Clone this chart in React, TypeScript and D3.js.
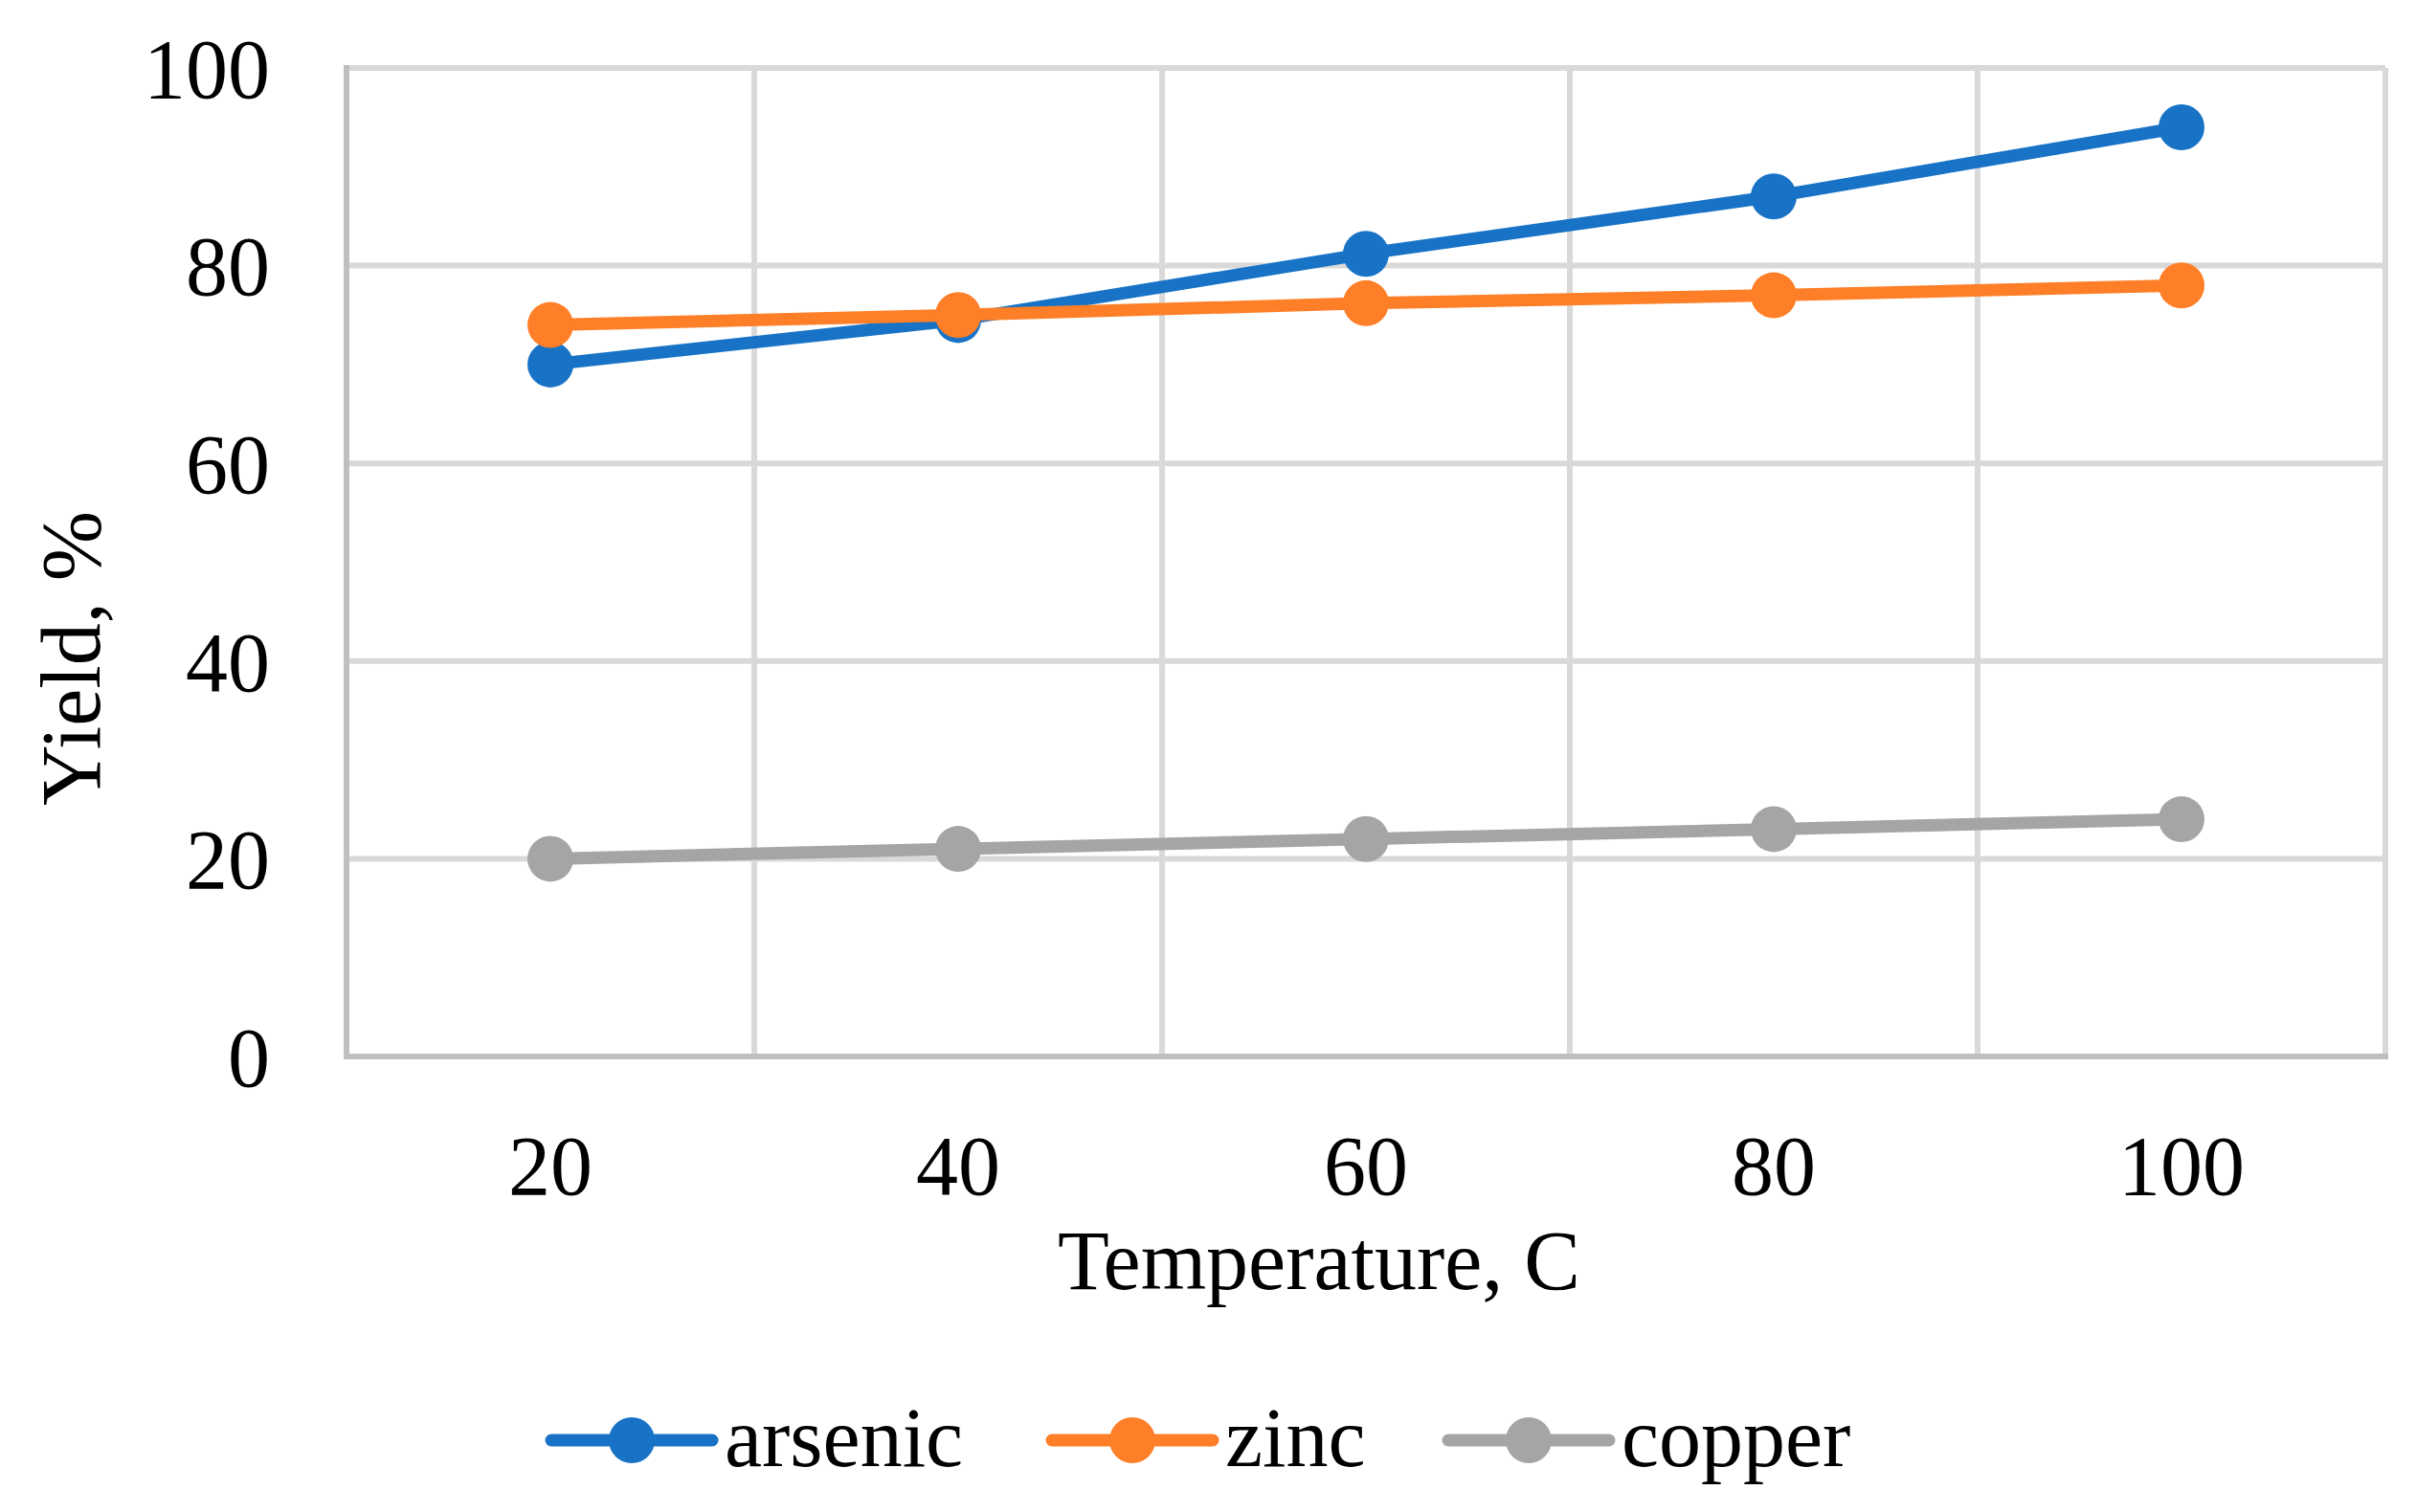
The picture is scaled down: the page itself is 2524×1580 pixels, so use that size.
import React from "react";
import * as d3 from "d3";

const temperatures = [20, 40, 60, 80, 100];
const arsenic = [70, 74.5, 81.2, 87, 94];
const zinc = [74, 75, 76.2, 77, 78];
const copper = [20, 21, 22, 23, 24];
const seriesNames = ["arsenic", "zinc", "copper"];
const seriesColors = ["#1873c6", "#fe7f27", "#a5a5a5"];
const yTicks = [0, 20, 40, 60, 80, 100];
const xTicks = [20, 40, 60, 80, 100];
const xGrid = [10, 30, 50, 70, 90, 110];

const W = 2524;
const H = 1580;
const FONT = "'Liberation Serif', 'Times New Roman', serif";

export default function App() {
  const x = d3.scaleLinear().domain([10, 110]).range([362, 2492]);
  const y = d3.scaleLinear().domain([0, 100]).range([1104, 71]);
  const data = [arsenic, zinc, copper];
  const line = d3
    .line<number>()
    .x((_, i) => x(temperatures[i]))
    .y((d) => y(d));

  const legendX = [576, 1099, 1513];
  const legendY = 1505;

  return (
    <div style={{ position: "absolute", left: 0, top: 0 }}>
      <svg width={W} height={H} style={{ display: "block", background: "#fff" }}>
        <rect x={0} y={0} width={W} height={H} fill="#fff" />
        {/* horizontal gridlines */}
        {yTicks.map((t) => (
          <line key={"h" + t} x1={x(10)} x2={x(110)} y1={y(t)} y2={y(t)} stroke="#d9d9d9" strokeWidth={6} />
        ))}
        {/* vertical gridlines */}
        {xGrid.map((t) => (
          <line key={"v" + t} x1={x(t)} x2={x(t)} y1={y(0)} y2={y(100)} stroke="#d9d9d9" strokeWidth={6} />
        ))}
        {/* axes */}
        <line x1={x(10)} x2={x(10)} y1={y(0) + 3} y2={y(100) - 3} stroke="#bfbfbf" strokeWidth={6} />
        <line x1={x(10) - 3} x2={x(110) + 3} y1={y(0)} y2={y(0)} stroke="#bfbfbf" strokeWidth={6} />

        {/* y tick labels */}
        {yTicks.map((t) => (
          <text key={"yl" + t} x={282} y={y(t)} dy="0.35em" textAnchor="end" fontFamily={FONT} fontSize={88} fill="#000">
            {t}
          </text>
        ))}
        {/* x tick labels */}
        {xTicks.map((t) => (
          <text key={"xl" + t} x={x(t)} y={1248} textAnchor="middle" fontFamily={FONT} fontSize={88} fill="#000">
            {t}
          </text>
        ))}

        {/* axis titles */}
        <text x={1378} y={1347} textAnchor="middle" fontFamily={FONT} fontSize={88} fill="#000">
          Temperature, C
        </text>
        <text
          transform={`translate(104, 688) rotate(-90)`}
          textAnchor="middle"
          fontFamily={FONT}
          fontSize={88}
          fill="#000"
        >
          Yield, %
        </text>

        {/* series */}
        {data.map((vals, si) => (
          <g key={"s" + si}>
            <path d={line(vals) || ""} fill="none" stroke={seriesColors[si]} strokeWidth={13} strokeLinejoin="round" strokeLinecap="round" />
            {vals.map((v, i) => (
              <circle key={i} cx={x(temperatures[i])} cy={y(v)} r={24} fill={seriesColors[si]} />
            ))}
          </g>
        ))}

        {/* legend */}
        {seriesNames.map((n, i) => (
          <g key={"lg" + n}>
            <line x1={legendX[i]} x2={legendX[i] + 168} y1={legendY} y2={legendY} stroke={seriesColors[i]} strokeWidth={13} strokeLinecap="round" />
            <circle cx={legendX[i] + 84} cy={legendY} r={24} fill={seriesColors[i]} />
            <text x={legendX[i] + 181} y={1532} fontFamily={FONT} fontSize={88} fill="#000">
              {n}
            </text>
          </g>
        ))}
      </svg>
    </div>
  );
}
